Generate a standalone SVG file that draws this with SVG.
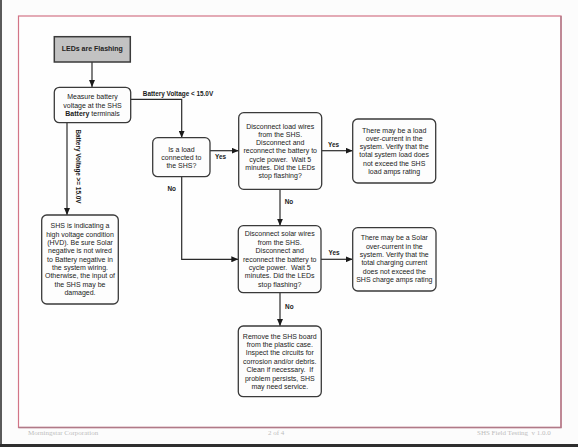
<svg xmlns="http://www.w3.org/2000/svg" width="578" height="447" viewBox="0 0 578 447">
<defs>
<marker id="ah" markerUnits="userSpaceOnUse" markerWidth="8" markerHeight="6" refX="7" refY="3" orient="auto">
<path d="M0,0 L7,3 L0,6 Z" fill="#1a1a1a"/>
</marker>
<style>
.box{fill:#fdfdfd;stroke:#3a3a3a;stroke-width:1.3}
.start{fill:#c2c2c2;stroke:#3a3a3a;stroke-width:1.5}
.t{font-family:"Liberation Sans",Arial,sans-serif;font-size:7px;fill:#222;text-anchor:middle}
.b{font-weight:bold}
.lbl{font-family:"Liberation Sans",Arial,sans-serif;font-size:6.4px;font-weight:bold;fill:#1a1a1a;text-anchor:middle}
.c{fill:none;stroke:#2a2a2a;stroke-width:1.2}
.foot{font-family:"Liberation Serif","Times New Roman",serif;font-size:7px;fill:#bdbdbd}
</style>
</defs>
<rect x="0" y="0" width="578" height="447" fill="#fcfcfc"/>
<rect x="0" y="0" width="2" height="447" fill="#5a5a5a"/>
<rect x="0" y="444" width="578" height="3" fill="#2e2e2e"/>
<g id="page-border">
<rect x="18.5" y="16" width="542.5" height="411.5" fill="#fefefe" stroke="#d27486" stroke-width="1.2"/>
<path d="M561,16 V427.5 H18.5" fill="none" stroke="#b07a88" stroke-width="1.4"/>
</g>
<g id="connectors">
<path class="c" d="M92,62 V87" marker-end="url(#ah)"/>
<path class="c" d="M130.7,99.3 H181.7 V137.7" marker-end="url(#ah)"/>
<path class="c" d="M67,122.7 V215" marker-end="url(#ah)"/>
<path class="c" d="M210,150.7 H238.7" marker-end="url(#ah)"/>
<path class="c" d="M181.7,176.7 V259.3 H238.3" marker-end="url(#ah)"/>
<path class="c" d="M321.7,150.7 H352.7" marker-end="url(#ah)"/>
<path class="c" d="M280,189.3 V225.7" marker-end="url(#ah)"/>
<path class="c" d="M321,259.3 H352.7" marker-end="url(#ah)"/>
<path class="c" d="M280,292.7 V326" marker-end="url(#ah)"/>
<text class="lbl" x="178" y="95.8">Battery Voltage &lt; 15.0V</text>
<text class="lbl" transform="translate(75.6,166.5) rotate(90)" x="0" y="0">Battery Voltage &gt;= 15.0V</text>
<text class="lbl" x="220.5" y="159">Yes</text>
<text class="lbl" x="171.7" y="191.3">No</text>
<text class="lbl" x="333.5" y="147">Yes</text>
<text class="lbl" x="289" y="204">No</text>
<text class="lbl" x="334" y="254.6">Yes</text>
<text class="lbl" x="289.3" y="309.3">No</text>
</g>
<g id="start">
<rect class="start" x="54.3" y="36.7" width="76" height="25.3"/>
<text class="t b" x="92.3" y="51.4">LEDs are Flashing</text>
</g>
<g id="measure">
<rect class="box" x="54.3" y="87.3" width="76.4" height="35.4" rx="5"/>
<text class="t" x="92.5" y="99.2">Measure battery</text>
<text class="t" x="92.5" y="107.5">voltage at the SHS</text>
<text class="t" x="92.5" y="115.8"><tspan class="b">Battery</tspan> terminals</text>
</g>
<g id="decision-load">
<rect class="box" x="152.7" y="137.7" width="57.3" height="39" rx="5"/>
<text class="t" x="181.4" y="151.5">Is a load</text>
<text class="t" x="181.4" y="159.8">connected to</text>
<text class="t" x="181.4" y="168.2">the SHS?</text>
</g>
<g id="disconnect-load">
<rect class="box" x="238.7" y="112.7" width="83" height="76.6" rx="5"/>
<text class="t" x="280.2" y="128.5">Disconnect load wires</text>
<text class="t" x="280.2" y="136.8">from the SHS.</text>
<text class="t" x="280.2" y="145.1">Disconnect and</text>
<text class="t" x="280.2" y="153.4">reconnect the battery to</text>
<text class="t" x="280.2" y="161.7">cycle power.&#160; Wait 5</text>
<text class="t" x="280.2" y="170">minutes. Did the LEDs</text>
<text class="t" x="280.2" y="178.3">stop flashing?</text>
</g>
<g id="load-overcurrent">
<rect class="box" x="352.7" y="119" width="83" height="64" rx="5"/>
<text class="t" x="394.2" y="132.5">There may be a load</text>
<text class="t" x="394.2" y="140.8">over-current in the</text>
<text class="t" x="394.2" y="149.1">system. Verify that the</text>
<text class="t" x="394.2" y="157.4">total system load does</text>
<text class="t" x="394.2" y="165.7">not exceed the SHS</text>
<text class="t" x="394.2" y="174">load amps rating</text>
</g>
<g id="hvd">
<rect class="box" x="41.7" y="215" width="76.6" height="89" rx="5"/>
<text class="t" x="80" y="228.2">SHS is indicating a</text>
<text class="t" x="80" y="236.5">high voltage condition</text>
<text class="t" x="80" y="244.9">(HVD). Be sure Solar</text>
<text class="t" x="80" y="253.2">negative is not wired</text>
<text class="t" x="80" y="261.6">to Battery negative in</text>
<text class="t" x="80" y="269.9">the system wiring.</text>
<text class="t" x="80" y="278.3">Otherwise, the input of</text>
<text class="t" x="80" y="286.6">the SHS may be</text>
<text class="t" x="80" y="295">damaged.</text>
</g>
<g id="disconnect-solar">
<rect class="box" x="238.3" y="225.7" width="82.7" height="67" rx="5"/>
<text class="t" x="279.7" y="236.2">Disconnect solar wires</text>
<text class="t" x="279.7" y="244.6">from the SHS.</text>
<text class="t" x="279.7" y="253">Disconnect and</text>
<text class="t" x="279.7" y="261.5">reconnect the battery to</text>
<text class="t" x="279.7" y="269.9">cycle power.&#160; Wait 5</text>
<text class="t" x="279.7" y="278.3">minutes. Did the LEDs</text>
<text class="t" x="279.7" y="286.8">stop flashing?</text>
</g>
<g id="solar-overcurrent">
<rect class="box" x="352.7" y="227.7" width="83.3" height="63.3" rx="5"/>
<text class="t" x="394.3" y="240.2">There may be a Solar</text>
<text class="t" x="394.3" y="248.6">over-current in the</text>
<text class="t" x="394.3" y="257">system. Verify that the</text>
<text class="t" x="394.3" y="265.4">total charging current</text>
<text class="t" x="394.3" y="273.8">does not exceed the</text>
<text class="t" x="394.3" y="282.2">SHS charge amps rating</text>
</g>
<g id="remove-board">
<rect class="box" x="238.3" y="326" width="83" height="70.7" rx="5"/>
<text class="t" x="279.8" y="338.5">Remove the SHS board</text>
<text class="t" x="279.8" y="346.9">from the plastic case.</text>
<text class="t" x="279.8" y="355.3">Inspect the circuits for</text>
<text class="t" x="279.8" y="363.7">corrosion and/or debris.</text>
<text class="t" x="279.8" y="372.1">Clean if necessary.&#160; If</text>
<text class="t" x="279.8" y="380.5">problem persists, SHS</text>
<text class="t" x="279.8" y="388.9">may need service.</text>
</g>
<g id="footer">
<text class="foot" x="28" y="434.5">Morningstar Corporation</text>
<text class="foot" x="268" y="434.5">2 of 4</text>
<text class="foot" x="477" y="434.5">SHS Field Testing&#160; v 1.0.0</text>
</g>
</svg>
